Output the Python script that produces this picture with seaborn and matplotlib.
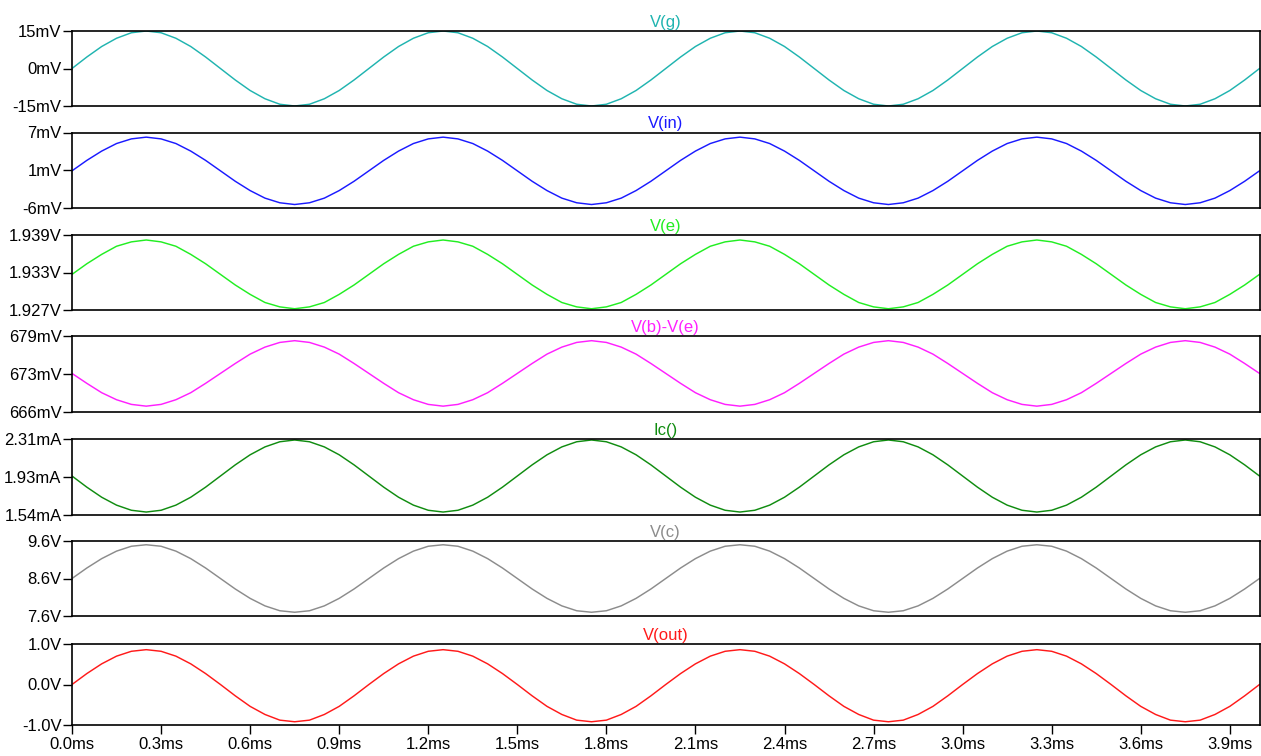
import matplotlib
matplotlib.use("Agg")
import matplotlib.pyplot as plt
import numpy as np
import seaborn as sns

sns.set_theme(style="ticks")
plt.rcParams["font.family"] = ["Liberation Sans", "DejaVu Sans"]

# 時間軸（ms），每 0.05ms 讀一個點
time_ms = np.linspace(0, 4, 81)

v_g = [
    0, 4.6, 8.8, 12.1, 14.3, 15, 14.3, 12.1, 8.8, 4.6, 0, -4.6, -8.8, -12.1, -14.3, -15, -14.3, -12.1, -8.8, -4.6,
    0, 4.6, 8.8, 12.1, 14.3, 15, 14.3, 12.1, 8.8, 4.6, 0, -4.6, -8.8, -12.1, -14.3, -15, -14.3, -12.1, -8.8, -4.6,
    0, 4.6, 8.8, 12.1, 14.3, 15, 14.3, 12.1, 8.8, 4.6, 0, -4.6, -8.8, -12.1, -14.3, -15, -14.3, -12.1, -8.8, -4.6,
    0, 4.6, 8.8, 12.1, 14.3, 15, 14.3, 12.1, 8.8, 4.6, 0, -4.6, -8.8, -12.1, -14.3, -15, -14.3, -12.1, -8.8, -4.6,
    0,
]
v_in = [
    0.4, 2.2, 3.8, 5.1, 5.9, 6.2, 5.9, 5.1, 3.8, 2.2, 0.4, -1.4, -3.0, -4.3, -5.1, -5.4, -5.1, -4.3, -3.0, -1.4,
    0.4, 2.2, 3.8, 5.1, 5.9, 6.2, 5.9, 5.1, 3.8, 2.2, 0.4, -1.4, -3.0, -4.3, -5.1, -5.4, -5.1, -4.3, -3.0, -1.4,
    0.4, 2.2, 3.8, 5.1, 5.9, 6.2, 5.9, 5.1, 3.8, 2.2, 0.4, -1.4, -3.0, -4.3, -5.1, -5.4, -5.1, -4.3, -3.0, -1.4,
    0.4, 2.2, 3.8, 5.1, 5.9, 6.2, 5.9, 5.1, 3.8, 2.2, 0.4, -1.4, -3.0, -4.3, -5.1, -5.4, -5.1, -4.3, -3.0, -1.4,
    0.4,
]
v_e = [
    1.9327, 1.9344, 1.9359, 1.9372, 1.9379, 1.9382, 1.9379, 1.9372, 1.9359, 1.9344,
    1.9327, 1.9310, 1.9295, 1.9282, 1.9275, 1.9272, 1.9275, 1.9282, 1.9295, 1.9310,
    1.9327, 1.9344, 1.9359, 1.9372, 1.9379, 1.9382, 1.9379, 1.9372, 1.9359, 1.9344,
    1.9327, 1.9310, 1.9295, 1.9282, 1.9275, 1.9272, 1.9275, 1.9282, 1.9295, 1.9310,
    1.9327, 1.9344, 1.9359, 1.9372, 1.9379, 1.9382, 1.9379, 1.9372, 1.9359, 1.9344,
    1.9327, 1.9310, 1.9295, 1.9282, 1.9275, 1.9272, 1.9275, 1.9282, 1.9295, 1.9310,
    1.9327, 1.9344, 1.9359, 1.9372, 1.9379, 1.9382, 1.9379, 1.9372, 1.9359, 1.9344,
    1.9327, 1.9310, 1.9295, 1.9282, 1.9275, 1.9272, 1.9275, 1.9282, 1.9295, 1.9310,
    1.9327,
]
v_be = [
    672.6, 670.9, 669.3, 668.1, 667.3, 667.0, 667.3, 668.1, 669.3, 670.9,
    672.6, 674.3, 675.9, 677.1, 677.9, 678.2, 677.9, 677.1, 675.9, 674.3,
    672.6, 670.9, 669.3, 668.1, 667.3, 667.0, 667.3, 668.1, 669.3, 670.9,
    672.6, 674.3, 675.9, 677.1, 677.9, 678.2, 677.9, 677.1, 675.9, 674.3,
    672.6, 670.9, 669.3, 668.1, 667.3, 667.0, 667.3, 668.1, 669.3, 670.9,
    672.6, 674.3, 675.9, 677.1, 677.9, 678.2, 677.9, 677.1, 675.9, 674.3,
    672.6, 670.9, 669.3, 668.1, 667.3, 667.0, 667.3, 668.1, 669.3, 670.9,
    672.6, 674.3, 675.9, 677.1, 677.9, 678.2, 677.9, 677.1, 675.9, 674.3,
    672.6,
]
ic = [
    1.935, 1.822, 1.720, 1.640, 1.588, 1.570, 1.588, 1.640, 1.720, 1.822,
    1.935, 2.048, 2.150, 2.230, 2.282, 2.300, 2.282, 2.230, 2.150, 2.048,
    1.935, 1.822, 1.720, 1.640, 1.588, 1.570, 1.588, 1.640, 1.720, 1.822,
    1.935, 2.048, 2.150, 2.230, 2.282, 2.300, 2.282, 2.230, 2.150, 2.048,
    1.935, 1.822, 1.720, 1.640, 1.588, 1.570, 1.588, 1.640, 1.720, 1.822,
    1.935, 2.048, 2.150, 2.230, 2.282, 2.300, 2.282, 2.230, 2.150, 2.048,
    1.935, 1.822, 1.720, 1.640, 1.588, 1.570, 1.588, 1.640, 1.720, 1.822,
    1.935, 2.048, 2.150, 2.230, 2.282, 2.300, 2.282, 2.230, 2.150, 2.048,
    1.935,
]
v_c = [
    8.60, 8.88, 9.13, 9.33, 9.46, 9.50, 9.46, 9.33, 9.13, 8.88, 8.60, 8.32, 8.07, 7.87, 7.74, 7.70, 7.74, 7.87, 8.07, 8.32,
    8.60, 8.88, 9.13, 9.33, 9.46, 9.50, 9.46, 9.33, 9.13, 8.88, 8.60, 8.32, 8.07, 7.87, 7.74, 7.70, 7.74, 7.87, 8.07, 8.32,
    8.60, 8.88, 9.13, 9.33, 9.46, 9.50, 9.46, 9.33, 9.13, 8.88, 8.60, 8.32, 8.07, 7.87, 7.74, 7.70, 7.74, 7.87, 8.07, 8.32,
    8.60, 8.88, 9.13, 9.33, 9.46, 9.50, 9.46, 9.33, 9.13, 8.88, 8.60, 8.32, 8.07, 7.87, 7.74, 7.70, 7.74, 7.87, 8.07, 8.32,
    8.60,
]
v_out = [
    0, 0.27, 0.51, 0.70, 0.82, 0.86, 0.82, 0.70, 0.51, 0.27, 0, -0.28, -0.54, -0.74, -0.88, -0.92, -0.88, -0.74, -0.54, -0.28,
    0, 0.27, 0.51, 0.70, 0.82, 0.86, 0.82, 0.70, 0.51, 0.27, 0, -0.28, -0.54, -0.74, -0.88, -0.92, -0.88, -0.74, -0.54, -0.28,
    0, 0.27, 0.51, 0.70, 0.82, 0.86, 0.82, 0.70, 0.51, 0.27, 0, -0.28, -0.54, -0.74, -0.88, -0.92, -0.88, -0.74, -0.54, -0.28,
    0, 0.27, 0.51, 0.70, 0.82, 0.86, 0.82, 0.70, 0.51, 0.27, 0, -0.28, -0.54, -0.74, -0.88, -0.92, -0.88, -0.74, -0.54, -0.28,
    0,
]

titles = ["V(g)", "V(in)", "V(e)", "V(b)-V(e)", "Ic()", "V(c)", "V(out)"]
series = [v_g, v_in, v_e, v_be, ic, v_c, v_out]
colors = ["#20b4b0", "#1a1aff", "#22ee22", "#ff20ff", "#108c10", "#8c8c8c", "#ff1a1a"]
y_limits = [(-15, 15), (-6, 7), (1.927, 1.939), (666, 679), (1.54, 2.31), (7.6, 9.6), (-1.0, 1.0)]
y_tick_labels = [
    ["-15mV", "0mV", "15mV"],
    ["-6mV", "1mV", "7mV"],
    ["1.927V", "1.933V", "1.939V"],
    ["666mV", "673mV", "679mV"],
    ["1.54mA", "1.93mA", "2.31mA"],
    ["7.6V", "8.6V", "9.6V"],
    ["-1.0V", "0.0V", "1.0V"],
]
x_ticks = [0.0, 0.3, 0.6, 0.9, 1.2, 1.5, 1.8, 2.1, 2.4, 2.7, 3.0, 3.3, 3.6, 3.9]

W, H = 1261, 756
FS = 12
# 每個面板的上下邊界（像素）
panel_px = [(31, 106), (132.5, 208), (235, 310), (336, 412), (439, 515), (541, 616), (644, 725)]
left_px, right_px = 72, 1259.5

fig = plt.figure(figsize=(W / 100, H / 100), dpi=100)

for i, (top, bot) in enumerate(panel_px):
    ax = fig.add_axes([left_px / W, 1 - bot / H, (right_px - left_px) / W, (bot - top) / H])
    sns.lineplot(x=time_ms, y=series[i], ax=ax, color=colors[i], linewidth=1.05)
    lo, hi = y_limits[i]
    ax.set_xlim(0, 4)
    ax.set_ylim(lo, hi)
    ax.set_yticks([lo, (lo + hi) / 2, hi])
    ax.set_yticklabels(y_tick_labels[i])
    ax.set_title(titles[i], color=colors[i], fontsize=FS, pad=3)
    for sp in ax.spines.values():
        sp.set_color("black")
        sp.set_linewidth(1.2)
    ax.tick_params(axis="y", direction="out", length=6.5, width=1, pad=1, labelsize=FS, colors="black")
    if i == len(panel_px) - 1:
        ax.set_xticks(x_ticks)
        ax.set_xticklabels([f"{t:.1f}ms" for t in x_ticks])
        ax.tick_params(axis="x", direction="out", length=6.5, width=1, pad=2, labelsize=FS, colors="black")
    else:
        ax.set_xticks([])
    ax.set_xlabel("")
    ax.set_ylabel("")

fig.savefig("out.png", dpi=100)
